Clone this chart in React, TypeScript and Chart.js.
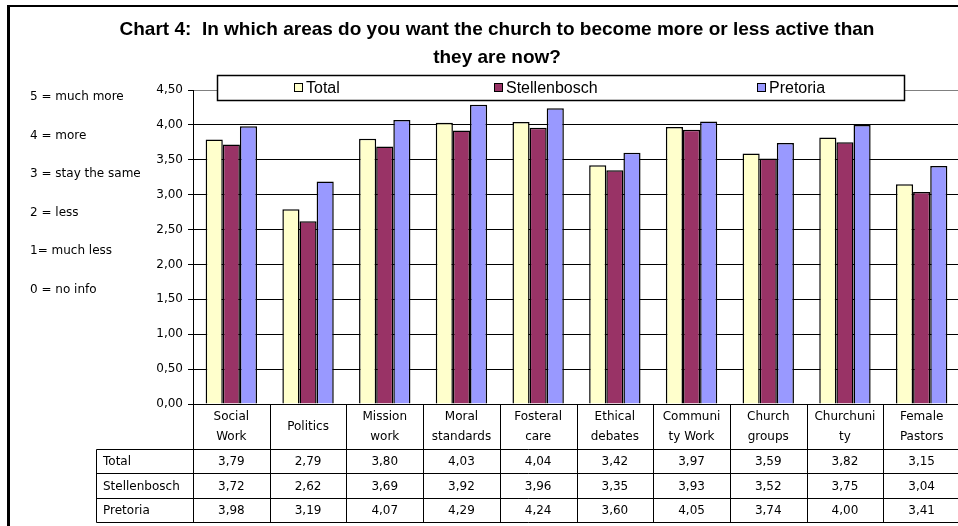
import { useEffect, useRef } from 'react';
import { Chart, registerables } from 'chart.js';

Chart.register(...registerables);

const categories: string[][] = [
  ['Social', 'Work'],
  ['Politics'],
  ['Mission', 'work'],
  ['Moral', 'standards'],
  ['Fosteral', 'care'],
  ['Ethical', 'debates'],
  ['Communi', 'ty Work'],
  ['Church', 'groups'],
  ['Churchuni', 'ty'],
  ['Female', 'Pastors'],
];
const seriesNames = ['Total', 'Stellenbosch', 'Pretoria'];
const totalValues = [3.79, 2.79, 3.8, 4.03, 4.04, 3.42, 3.97, 3.59, 3.82, 3.15];
const stellenboschValues = [3.72, 2.62, 3.69, 3.92, 3.96, 3.35, 3.93, 3.52, 3.75, 3.04];
const pretoriaValues = [3.98, 3.19, 4.07, 4.29, 4.24, 3.6, 4.05, 3.74, 4.0, 3.41];
const seriesColors = ['#FFFFCC', '#993366', '#9999FF'];
const scaleNotes = ['5 = much more', '4 = more', '3 = stay the same', '2 = less', '1= much less', '0 = no info'];
const titleLines = [
  'Chart 4:  In which areas do you want the church to become more or less active than',
  'they are now?',
];
const yMin = 0;
const yMax = 4.5;
const yStep = 0.5;

const fmt = (v: number) => v.toFixed(2).replace('.', ',');
const SMALL = '12px "DejaVu Sans"';

const extrasPlugin = {
  id: 'extras',
  afterDraw(chart: any) {
    const ctx: CanvasRenderingContext2D = chart.ctx;
    const area = chart.chartArea;
    const xs = chart.scales.x;
    const n = categories.length;
    const cw = (area.right - area.left) / n;
    ctx.save();

    // frame
    ctx.fillStyle = '#000';
    ctx.fillRect(7, 5, 980, 2);
    ctx.fillRect(7, 5, 3, 540);

    // title
    ctx.fillStyle = '#000';
    ctx.textAlign = 'center';
    ctx.textBaseline = 'middle';
    ctx.font = 'bold 19px "Liberation Sans"';
    ctx.fillText(titleLines[0], 497, 30);
    ctx.fillText(titleLines[1], 497, 58);

    // scale notes
    ctx.font = SMALL;
    ctx.textAlign = 'left';
    const noteY = [97, 136, 174, 213, 251, 290];
    scaleNotes.forEach((t, i) => ctx.fillText(t, 30, noteY[i]));

    // legend box
    ctx.fillStyle = '#fff';
    ctx.fillRect(217.5, 75.5, 687, 25);
    ctx.strokeStyle = '#000';
    ctx.lineWidth = 1.5;
    ctx.strokeRect(217.5, 75.5, 687, 25);
    const legendX = [294, 494, 757];
    ctx.font = '16px "Liberation Sans"';
    ctx.lineWidth = 1;
    chart.data.datasets.forEach((ds: any, i: number) => {
      ctx.fillStyle = ds.backgroundColor;
      ctx.fillRect(legendX[i] + 0.5, 83.5, 8, 8);
      ctx.strokeStyle = '#000';
      ctx.strokeRect(legendX[i] + 0.5, 83.5, 8, 8);
      ctx.fillStyle = '#000';
      ctx.fillText(ds.label, legendX[i] + 12, 88.5);
    });

    // data table
    const top = area.bottom;
    const headBottom = 449.5;
    const rowH = 24.33;
    const tableBottom = headBottom + rowH * 3;
    const left = 96.5;
    ctx.strokeStyle = '#000';
    ctx.lineWidth = 1;
    ctx.beginPath();
    ctx.moveTo(area.left, top + 0.5);
    ctx.lineTo(area.right, top + 0.5);
    for (let r = 0; r <= 3; r++) {
      const y = Math.round(headBottom + r * rowH - 0.5) + 0.5;
      ctx.moveTo(left, y);
      ctx.lineTo(area.right, y);
    }
    ctx.moveTo(left, headBottom);
    ctx.lineTo(left, tableBottom);
    for (let i = 0; i <= n; i++) {
      const x = Math.round(area.left + i * cw) + 0.5;
      ctx.moveTo(x, top);
      ctx.lineTo(x, tableBottom);
    }
    ctx.stroke();

    ctx.fillStyle = '#000';
    ctx.font = SMALL;
    ctx.textBaseline = 'middle';
    categories.forEach((lines, i) => {
      const cx = xs.getPixelForValue(i);
      ctx.textAlign = 'center';
      if (lines.length === 1) {
        ctx.fillText(lines[0], cx, (top + headBottom) / 2);
      } else {
        ctx.fillText(lines[0], cx, top + 13);
        ctx.fillText(lines[1], cx, top + 33);
      }
    });
    chart.data.datasets.forEach((ds: any, r: number) => {
      const cy = headBottom + r * rowH + rowH / 2 + 0.5;
      ctx.textAlign = 'left';
      ctx.fillText(ds.label, 103, cy);
      ctx.textAlign = 'center';
      ds.data.forEach((v: number, i: number) => {
        ctx.fillText(fmt(v), xs.getPixelForValue(i), cy);
      });
    });
    ctx.restore();
  },
};

export default function App() {
  const ref = useRef<HTMLCanvasElement>(null);
  useEffect(() => {
    const chart = new Chart(ref.current as HTMLCanvasElement, {
      type: 'bar',
      data: {
        labels: categories.map((c) => c.join(' ')),
        datasets: [totalValues, stellenboschValues, pretoriaValues].map((d, i) => ({
          label: seriesNames[i],
          data: d,
          backgroundColor: seriesColors[i],
          borderColor: '#000',
          borderWidth: 1.5,
          barPercentage: 1,
          categoryPercentage: 0.67,
        })),
      },
      options: {
        animation: false,
        responsive: false,
        devicePixelRatio: 1,
        layout: { padding: { left: 0, top: 90, right: 20, bottom: 122 } },
        plugins: {
          legend: { display: false },
          title: { display: false },
          tooltip: { enabled: false },
        },
        scales: {
          x: { display: false },
          y: {
            min: yMin,
            max: yMax,
            afterFit: (s: any) => {
              s.width = 193;
            },
            border: { color: '#000', width: 1 },
            grid: {
              color: (c: any) => (c.tick && c.tick.value === yMax ? '#808080' : '#000'),
              tickColor: '#000',
              tickLength: 5,
              lineWidth: 1,
            },
            ticks: {
              stepSize: yStep,
              padding: 5,
              color: '#000',
              font: { family: 'DejaVu Sans', size: 12 },
              callback: (v: any) => fmt(Number(v)),
            },
          },
        },
      },
      plugins: [extrasPlugin],
    });
    return () => chart.destroy();
  }, []);
  return (
    <div
      style={{
        position: 'fixed',
        left: 0,
        top: 0,
        width: 958,
        height: 526,
        overflow: 'hidden',
        background: '#fff',
      }}
    >
      <canvas ref={ref} width={980} height={526} style={{ display: 'block', width: 980, height: 526 }} />
    </div>
  );
}
